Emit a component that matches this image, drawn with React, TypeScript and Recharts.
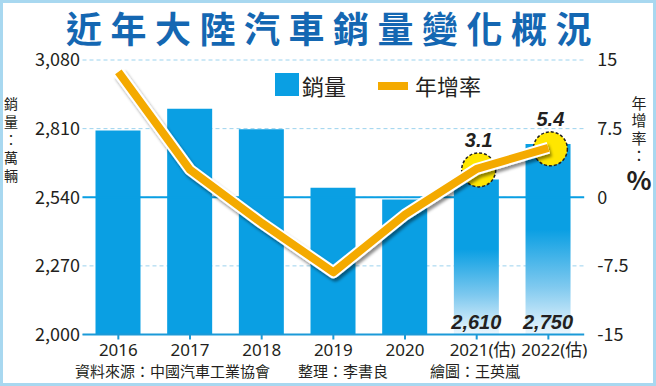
import React from 'react';
import {
  ComposedChart, Bar, Line, XAxis, YAxis, CartesianGrid, ReferenceLine, Cell, LabelList,
} from 'recharts';

const years = ['2016', '2017', '2018', '2019', '2020', '2021(估)', '2022(估)'];
const sales = [2803, 2888, 2808, 2577, 2531, 2610, 2750];
const growth = [13.7, 3.0, -2.8, -8.2, -1.9, 3.1, 5.4];
const salesTicks = [2000, 2270, 2540, 2810, 3080];
const growthTicks = [-15, -7.5, 0, 7.5, 15];
const highlighted = [5, 6];

const data = years.map((y, i) => ({ year: y, sales: sales[i], growth: growth[i] }));

const BLUE = '#0a9fe3';
const LINE_BLUE = '#1b9ad8';
const DASH_BLUE = '#9cd3ee';
const ORANGE = '#f4aa00';
const TITLE_BLUE = '#1467b2';
const TEXT = '#231f20';
const FONT = '"Noto Sans CJK TC", "Noto Sans", sans-serif';
const LATIN_FONT = '"Noto Sans", "Noto Sans CJK TC", sans-serif';
const NUM_FONT = '"Liberation Sans", Arial, sans-serif';

const XTick = (props: any) => {
  const { x, y, payload } = props;
  const v = String(payload.value);
  return (
    <text x={x + (v.includes('估') ? 6 : 0)} y={y} dy="0.71em" textAnchor="middle"
      fontFamily={LATIN_FONT} fontSize={17} fill={TEXT}>{v}</text>
  );
};

const HiDot = (props: any) => {
  const { cx, cy, index } = props;
  if (!highlighted.includes(index)) return <g key={`d${index}`} />;
  return (
    <circle key={`d${index}`} cx={cx + 2} cy={cy + 1} r={17} fill="#ffe600" stroke="#222"
      strokeWidth={1.5} strokeDasharray="3 2" />
  );
};

const GrowthLabel = (props: any) => {
  const { x, y, index, value } = props;
  if (!highlighted.includes(index)) return null;
  return (
    <text x={x + 2} y={y - 29} textAnchor="middle" dominantBaseline="central"
      fontFamily={NUM_FONT} fontWeight="bold" fontStyle="italic" fontSize={20} fill={TEXT}>
      {String(value)}
    </text>
  );
};

const SalesLabel = (props: any) => {
  const { x, y, width, height, index, value } = props;
  if (!highlighted.includes(index)) return null;
  return (
    <text x={x + width / 2} y={y + height - 13} textAnchor="middle" dominantBaseline="central"
      fontFamily={NUM_FONT} fontWeight="bold" fontStyle="italic" fontSize={20} fill={TEXT}>
      {Number(value).toLocaleString('en-US')}
    </text>
  );
};

export default function App() {
  return (
    <div style={{ position: 'absolute', left: 0, top: 0, width: 656, height: 386, background: '#fff', overflow: 'hidden' }}>
      <div style={{ position: 'absolute', left: 0, top: 0 }}>
        <ComposedChart width={656} height={386} data={data} margin={{ top: 60, right: 0, bottom: 0, left: 0 }}>
          <defs>
            <linearGradient id="fadeBlue" x1="0" y1="0" x2="0" y2="1">
              <stop offset="0" stopColor={BLUE} />
              <stop offset="0.45" stopColor={BLUE} />
              <stop offset="0.75" stopColor="#7fc9ef" />
              <stop offset="1" stopColor="#eef7fd" />
            </linearGradient>
            <filter id="lineShadow" x="-10%" y="-10%" width="120%" height="130%">
              <feDropShadow dx="2" dy="3" stdDeviation="1.5" floodColor="#000" floodOpacity="0.45" />
            </filter>
          </defs>
          <CartesianGrid yAxisId="s" vertical={false} stroke={DASH_BLUE} strokeDasharray="4 3" />
          <XAxis dataKey="year" height={51.5} interval={0} axisLine={{ stroke: LINE_BLUE, strokeWidth: 2 }}
            tickLine={{ stroke: LINE_BLUE, strokeWidth: 2 }} tickSize={5} tickMargin={4.5} tick={<XTick />} />
          <YAxis yAxisId="s" domain={[2000, 3080]} ticks={salesTicks} width={82.5} axisLine={false}
            tickLine={false} tickSize={0} tickMargin={2.5}
            tickFormatter={(v: number) => v.toLocaleString('en-US')}
            tick={{ fontFamily: FONT, fontSize: 18, fill: TEXT }} />
          <YAxis yAxisId="g" orientation="right" domain={[-15, 15]} ticks={growthTicks} width={71.8}
            axisLine={false} tickLine={false} tickSize={0} tickMargin={13}
            tick={{ fontFamily: FONT, fontSize: 18, fill: TEXT }} />
          <ReferenceLine yAxisId="s" y={2540} stroke={BLUE} strokeWidth={2} />
          <Bar yAxisId="s" dataKey="sales" barSize={45} isAnimationActive={false}>
            {data.map((d, i) => (
              <Cell key={d.year} fill={highlighted.includes(i) ? 'url(#fadeBlue)' : BLUE} />
            ))}
            <LabelList dataKey="sales" content={<SalesLabel />} />
          </Bar>
          <Line yAxisId="g" dataKey="growth" stroke="none" dot={HiDot} activeDot={false}
            legendType="none" isAnimationActive={false} />
          <Line yAxisId="g" dataKey="growth" stroke="#fff" strokeWidth={12} dot={false} activeDot={false}
            strokeLinejoin="round" filter="url(#lineShadow)" legendType="none" isAnimationActive={false}
            zIndex={700} />
          <Line yAxisId="g" dataKey="growth" stroke={ORANGE} strokeWidth={8} dot={false} activeDot={false}
            strokeLinejoin="round" isAnimationActive={false} zIndex={710}>
            <LabelList dataKey="growth" content={<GrowthLabel />} />
          </Line>
        </ComposedChart>
      </div>
      <svg width={656} height={386} style={{ position: 'absolute', left: 0, top: 0, pointerEvents: 'none' }}>
        <text x={333} y={27} textAnchor="middle" dominantBaseline="central" fontFamily={FONT}
          fontSize={36} fontWeight="bold" letterSpacing={8.5} fill={TITLE_BLUE}>近年大陸汽車銷量變化概況</text>
        <rect x={275} y={73} width={24} height={23} fill={BLUE} />
        <text x={302} y={85} dominantBaseline="central" fontFamily={FONT} fontSize={22} fill={TEXT}>銷量</text>
        <rect x={378} y={82} width={30} height={8} fill={ORANGE} />
        <text x={415} y={85} dominantBaseline="central" fontFamily={FONT} fontSize={22} fill={TEXT}>年增率</text>
        <text x={11} y={96.5} writingMode="vertical-rl" fontFamily={FONT} fontSize={14} letterSpacing={4}
          fill={TEXT}>銷量：萬輛</text>
        <text x={639} y={96} writingMode="vertical-rl" fontFamily={FONT} fontSize={15} letterSpacing={2.2}
          fill={TEXT}>年增率：</text>
        <text x={639} y={178} textAnchor="middle" dominantBaseline="central" fontFamily={FONT}
          fontSize={26} fontWeight="bold" fill={TEXT}>%</text>
        <text x={75} y={370.5} dominantBaseline="central" fontFamily={FONT} fontSize={15} fill={TEXT}>資料來源：中國汽車工業協會</text>
        <text x={298} y={370.5} dominantBaseline="central" fontFamily={FONT} fontSize={15} fill={TEXT}>整理：李書良</text>
        <text x={430} y={370.5} dominantBaseline="central" fontFamily={FONT} fontSize={15} fill={TEXT}>繪圖：王英嵐</text>
      </svg>
      <div style={{ position: 'absolute', left: 0, top: 0, width: 656, height: 386, boxSizing: 'border-box',
        border: '3px solid #a8d8f0', pointerEvents: 'none' }} />
    </div>
  );
}
